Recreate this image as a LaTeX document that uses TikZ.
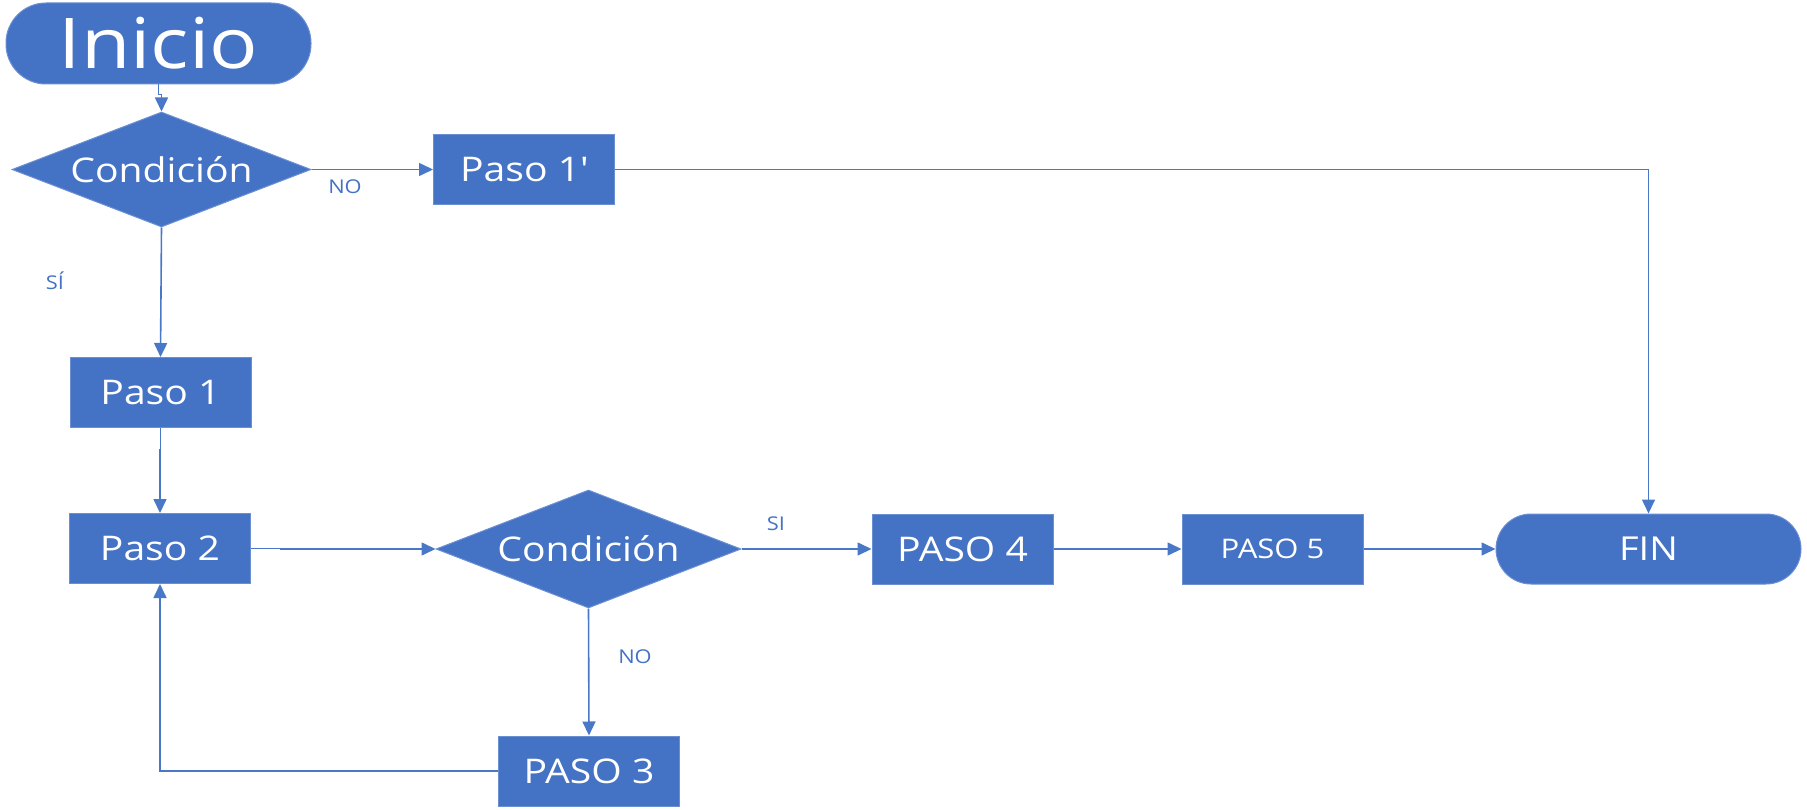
\documentclass[tikz,border=0pt]{standalone}
\usepackage{fontspec}
\setmainfont[FakeStretch=1.15]{Open Sans}
\usetikzlibrary{shapes.geometric,arrows.meta}
\definecolor{boxblue}{HTML}{4472C4}
\definecolor{edgeblue}{HTML}{6A8FD2}
\definecolor{wireblue}{HTML}{4A78C8}
% straight (typewriter) apostrophe, untouched by the TeX quote mapping
\newcommand{\straightquote}{\XeTeXglyph\XeTeXglyphindex "quotesingle"\relax}
\tikzset{
  x=1pt, y=-1pt,
  shapebase/.style={fill=boxblue, draw=edgeblue, line width=1pt, text=white, inner sep=0pt},
  stepbox/.style={shapebase, rectangle, minimum width=181pt, minimum height=70pt, font=\fontsize{34}{40}\selectfont},
  terminal/.style={shapebase, rectangle, minimum width=305pt},
  decision/.style={shapebase, diamond, aspect=2.6, font=\fontsize{34}{40}\selectfont},
  wire/.style={draw=wireblue, line width=1.6pt, -{Triangle[length=14pt,width=13pt]}},
  tag/.style={text=boxblue, font=\fontsize{19}{22}\selectfont, inner sep=0pt}
}
\begin{document}
\begin{tikzpicture}
\useasboundingbox (0,0) rectangle (1807,810);

% start / end terminals
\node[terminal, minimum height=81pt, rounded corners=40pt, font=\fontsize{70}{74}\selectfont] (ini) at (158.5,43.5) {Inicio};
\node[terminal, minimum height=70pt, rounded corners=35pt, font=\fontsize{33}{38}\selectfont] (fin) at (1648.5,549) {FIN};

% decisions
\node[decision, minimum width=299pt, minimum height=115pt] (c1) at (161.5,169.5) {Condición};
\node[decision, minimum width=305pt, minimum height=118pt] (c2) at (588.5,549) {Condición};

% process steps
\node[stepbox] (p1b) at (524,169.5) {Paso 1\straightquote};
\node[stepbox] (p1) at (160.5,392.5) {Paso 1};
\node[stepbox] (p2) at (160,548.5) {Paso 2};
\node[stepbox] (p3) at (589,771) {PASO 3};
\node[stepbox] (p4) at (962.5,549) {PASO 4};
\node[stepbox, font=\fontsize{27}{32}\selectfont] (p5) at (1272.5,549) {PASO 5};

% connectors
\draw[wire] (ini.south) -- ++(0,10) -| (c1.north);
\draw[wire] (c1.east) -- (p1b.west);
\draw[wire] (c1.south) -- (p1.north);
\draw[wire] (p1.south) -- ++(0,22) -| (p2.north);
\draw[wire] (p2.east) -- ++(30,0) |- (c2.west);
\draw[wire] (c2.east) -- (p4.west);
\draw[wire] (p4.east) -- (p5.west);
\draw[wire] (p5.east) -- (fin.west);
\draw[wire] (p1b.east) -| (fin.north);
\draw[wire] (c2.south) -- (p3.north);
\draw[wire] (p3.west) -| (p2.south);

% branch labels
\node[tag] (lno1) at (345,187) {NO};
\node[tag] (lsi1) at (55,281) {SÍ};
\node[tag] (lsi2) at (776,524) {SI};
\node[tag] (lno2) at (635,657) {NO};
\end{tikzpicture}
\end{document}
